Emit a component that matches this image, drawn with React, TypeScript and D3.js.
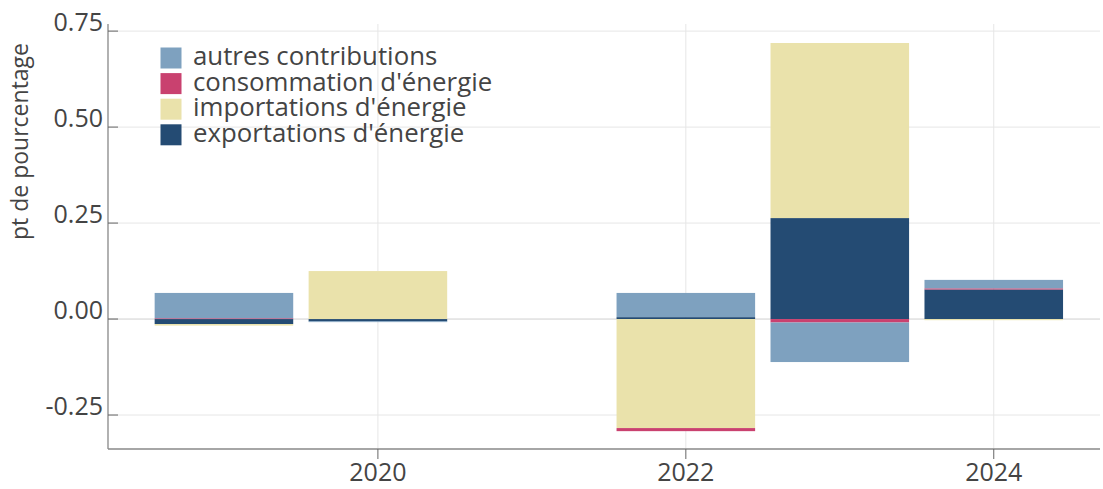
import React from 'react';
import * as d3 from 'd3';

// data (pt de pourcentage)
const years = [2019, 2020, 2022, 2023, 2024];
const exportations = [-0.013, -0.006, 0.005, 0.263, 0.077];
const importations = [-0.004, 0.125, -0.284, 0.456, -0.003];
const consommation = [0.002, 0.0, -0.008, -0.009, 0.003];
const autres = [0.066, -0.002, 0.063, -0.103, 0.022];

const yTicks = [-0.25, 0, 0.25, 0.5, 0.75];
const xTicks = [2020, 2022, 2024];

// stacking order (bottom first)
const seriesKeys = ['exportations', 'importations', 'consommation', 'autres'];
const labels: Record<string, string> = {
  autres: 'autres contributions',
  consommation: "consommation d'énergie",
  importations: "importations d'énergie",
  exportations: "exportations d'énergie",
};
const colors: Record<string, string> = {
  autres: '#7ea1bf',
  consommation: '#c9416f',
  importations: '#eae2ab',
  exportations: '#244b73',
};
const legendOrder = ['autres', 'consommation', 'importations', 'exportations'];

const W = 1103, H = 489;
const left = 108, right = 1100, top = 24, bottom = 449;
const font = '"Open Sans", sans-serif';
const textColor = '#444';

const App = () => {
  const x = d3.scaleLinear().domain([2018.247, 2024.69]).range([left, right]);
  const y = d3.scaleLinear().domain([-0.3385, 0.7685]).range([bottom, top]);
  const bw = (x(1) - x(0)) * 0.9;

  const rows = years.map((yr, i) => ({
    year: yr,
    exportations: exportations[i],
    importations: importations[i],
    consommation: consommation[i],
    autres: autres[i],
  }));
  const stacked = d3.stack<any>().keys(seriesKeys).offset(d3.stackOffsetDiverging)(rows);
  const fmt = (t: number) => d3.format('.2f')(t).replace('−', '-');

  return (
    <svg width={W} height={H} style={{ position: 'absolute', left: 0, top: 0 }} fontFamily={font}>
      {/* grid */}
      {xTicks.map(t => (
        <line key={'gx' + t} x1={x(t)} x2={x(t)} y1={top} y2={bottom} stroke="#e6e6e6" strokeWidth={1} />
      ))}
      {yTicks.map(t => (
        <line key={'gy' + t} x1={left} x2={right} y1={y(t)} y2={y(t)} stroke={t === 0 ? '#cfcfcf' : '#e6e6e6'} strokeWidth={1} />
      ))}

      {/* bars */}
      {stacked.map(s => (
        <g key={s.key} fill={colors[s.key]}>
          {s.map((d, i) => {
            const y0 = y(d[0]), y1 = y(d[1]);
            const h = Math.abs(y0 - y1);
            if (h < 0.01) return null;
            return (
              <rect key={i} x={x(rows[i].year) - bw / 2} width={bw} y={Math.min(y0, y1)} height={h} />
            );
          })}
        </g>
      ))}

      {/* axes */}
      <line x1={left} x2={left} y1={top} y2={bottom} stroke="#888" strokeWidth={1.3} />
      <line x1={left} x2={right} y1={bottom} y2={bottom} stroke="#888" strokeWidth={1.3} />
      {yTicks.map(t => (
        <g key={'ty' + t}>
          <line x1={left} x2={left + 10} y1={y(t)} y2={y(t)} stroke="#666" strokeWidth={1} />
          <text x={left - 5} y={y(t) - 7} textAnchor="end" dominantBaseline="middle" fontSize={25} fill={textColor}>
            {fmt(t)}
          </text>
        </g>
      ))}
      {xTicks.map(t => (
        <g key={'tx' + t}>
          <line x1={x(t)} x2={x(t)} y1={bottom} y2={bottom + 10} stroke="#666" strokeWidth={1} />
          <text x={x(t)} y={474} textAnchor="middle" dominantBaseline="middle" fontSize={25} fill={textColor}>
            {t}
          </text>
        </g>
      ))}
      <text transform={`translate(22,${(40 + 243) / 2}) rotate(-90)`} textAnchor="middle" dominantBaseline="middle" fontSize={23} fill={textColor}>
        pt de pourcentage
      </text>

      {/* legend */}
      {legendOrder.map((k, i) => (
        <g key={'lg' + k} transform={`translate(160,${58 + i * 25.6})`}>
          <rect x={0.5} y={-10.5} width={21} height={21} fill={colors[k]} />
          <text x={33} y={0} dominantBaseline="middle" fontSize={25.8} fill={textColor}>
            {labels[k]}
          </text>
        </g>
      ))}
    </svg>
  );
};

export default App;
